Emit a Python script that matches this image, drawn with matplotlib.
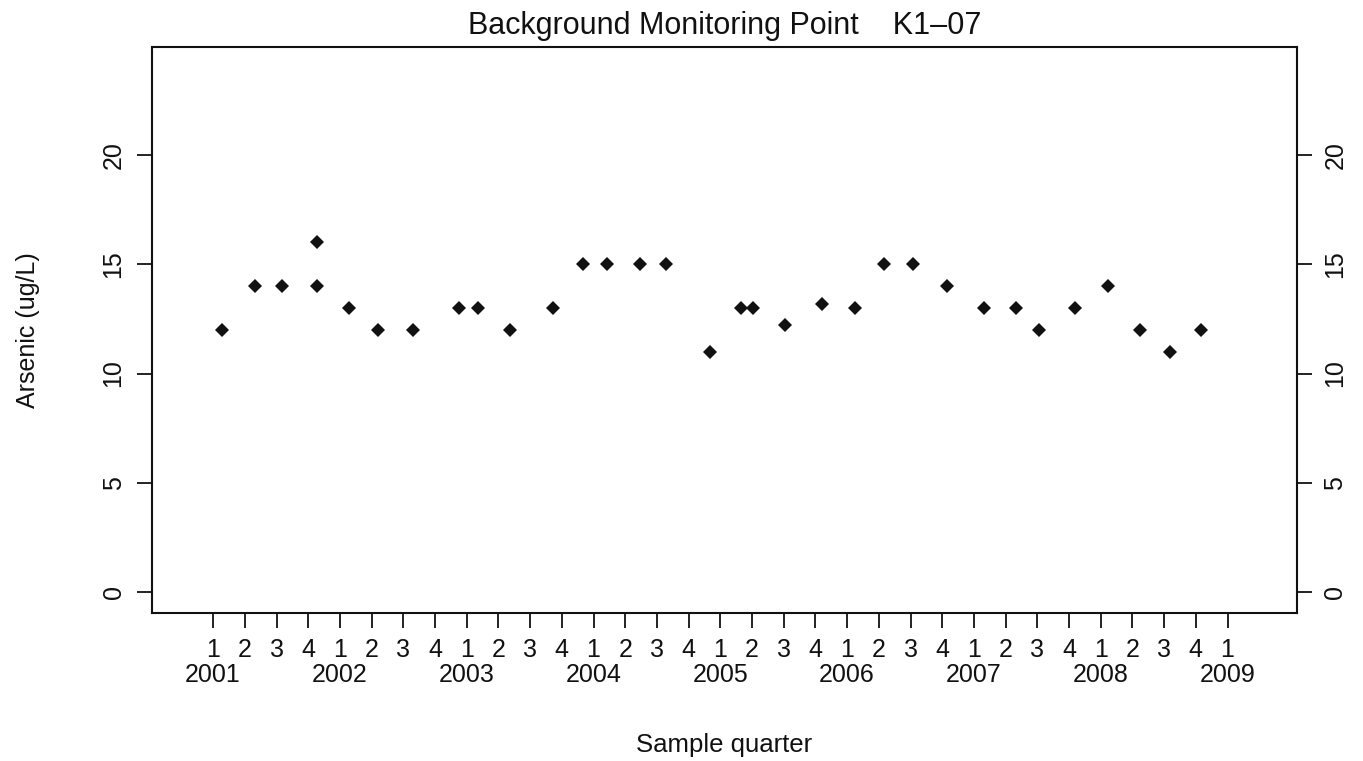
import matplotlib
matplotlib.use("Agg")
import matplotlib.pyplot as plt
import numpy as np

# ---- data ----
sample_time = [2001.07, 2001.33, 2001.54, 2001.82, 2001.82, 2002.07, 2002.30, 2002.58,
               2002.94, 2003.09, 2003.34, 2003.68, 2003.92, 2004.11, 2004.37, 2004.57,
               2004.92, 2005.16, 2005.26, 2005.51, 2005.80, 2006.06, 2006.29, 2006.52,
               2006.79, 2007.08, 2007.33, 2007.51, 2007.80, 2008.06, 2008.31, 2008.55,
               2008.79]
arsenic = [12, 14, 14, 16, 14, 13, 12, 12,
           13, 13, 12, 13, 15, 15, 15, 15,
           11, 13, 13, 12.2, 13.2, 13, 15, 15,
           14, 13, 13, 12, 13, 14, 12, 11,
           12]
years = list(range(2001, 2010))
quarter_labels = ["1", "2", "3", "4"]
y_ticks = [0, 5, 10, 15, 20]

title = "Background Monitoring Point    K1\u201307"
xlabel = "Sample quarter"
ylabel = "Arsenic (ug/L)"

plt.rcParams['font.family'] = ['Liberation Sans', 'DejaVu Sans']

W, H = 1363, 761
fig = plt.figure(figsize=(W / 100, H / 100), dpi=100)
ax = fig.add_axes([152 / W, 1 - 613 / H, (1297 - 152) / W, (613 - 46.6) / H])

ax.plot(sample_time, arsenic, linestyle='none', marker='D', markersize=7,
        color='#111111', markeredgewidth=0)

# x ticks: every quarter
xt, xl = [], []
for y in years:
    for qi, q in enumerate(quarter_labels):
        pos = y + qi / 4
        if pos > 2009.01:
            break
        xt.append(pos)
        xl.append(q)
ax.set_xticks(xt)
ax.set_xticklabels(xl, fontsize=18)
ax.set_xlim(2000.518, 2009.548)

# year row under quarter 1 ticks
for y in years:
    ax.annotate(str(y), xy=(y, 0), xycoords=('data', 'axes fraction'),
                xytext=(0, -62), textcoords='offset pixels',
                ha='center', va='center', fontsize=18, color='#111111')

ax.set_yticks(y_ticks)
ax.set_yticklabels([str(v) for v in y_ticks], fontsize=18, rotation=90, va='center')
ax.set_ylim(-0.96, 24.96)

ax.tick_params(axis='both', direction='out', length=11, width=1.3, color='#111111',
               labelcolor='#111111')
ax.tick_params(axis='x', pad=7)
ax.tick_params(axis='y', pad=8, right=True, labelright=True)
for lbl in ax.get_yticklabels(which='both'):
    lbl.set_va('center')
for t in ax.yaxis.get_major_ticks():
    t.label2.set_rotation(90)
    t.label2.set_va('center')

for s in ax.spines.values():
    s.set_linewidth(1.5)
    s.set_color('#111111')

ax.set_title(title, fontsize=22, pad=9, color='#111111')
ax.set_xlabel(xlabel, fontsize=18.5, labelpad=51, color='#111111')
ax.set_ylabel(ylabel, fontsize=18, labelpad=44, color='#111111')

fig.savefig("out.png", dpi=100, facecolor='white')
